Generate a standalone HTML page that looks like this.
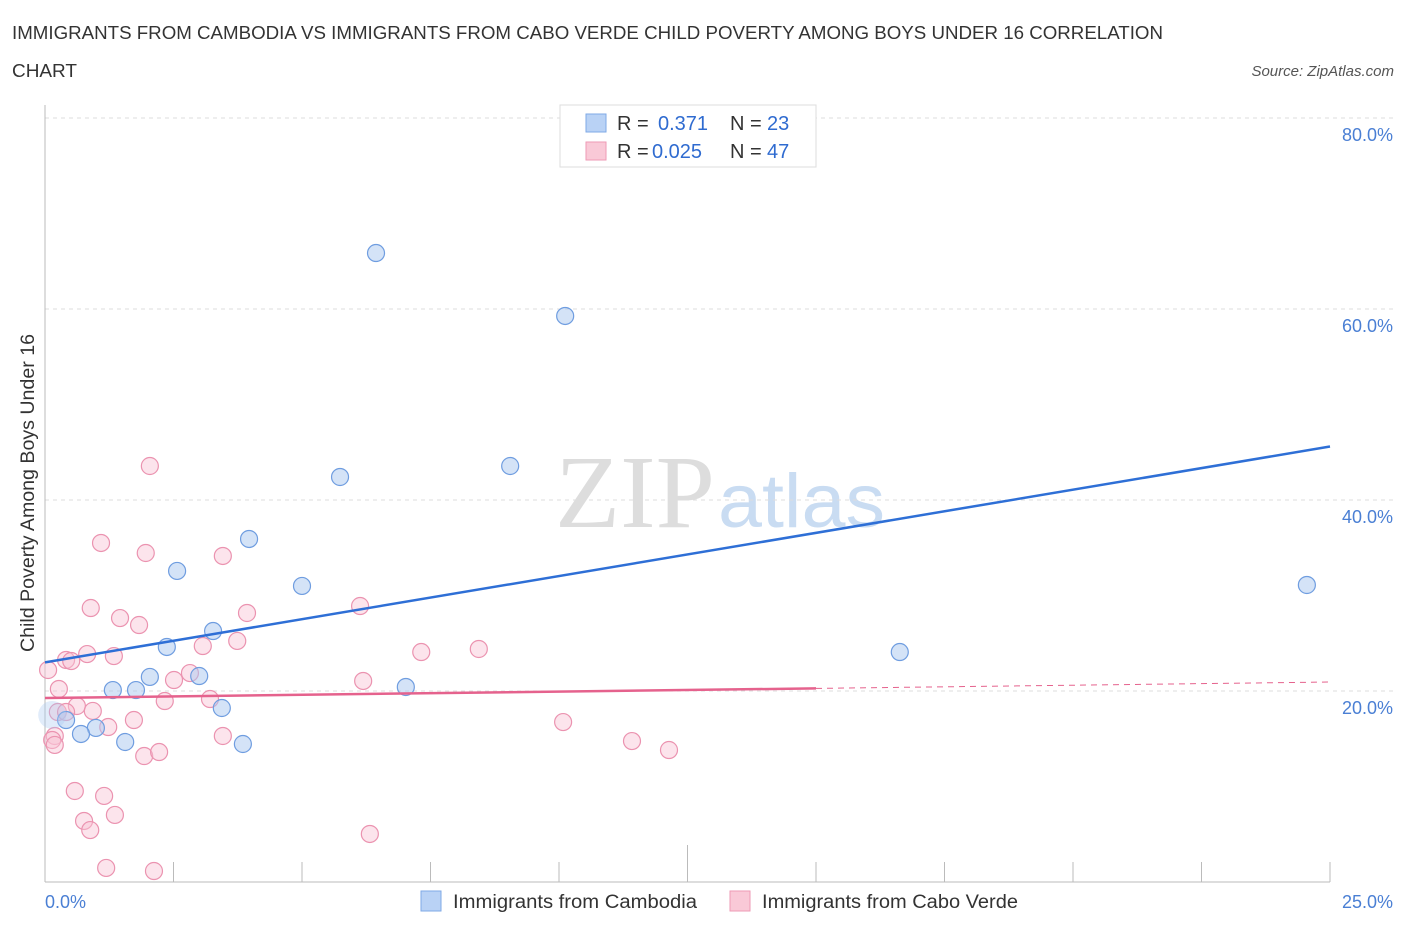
<!DOCTYPE html>
<html><head><meta charset="utf-8"><style>
body{margin:0;background:#fff;font-family:"Liberation Sans",sans-serif}
</style></head><body>
<svg width="1406" height="930" xmlns="http://www.w3.org/2000/svg" id="svg">
<text x="12" y="39" font-size="18" fill="#333" textLength="1151" lengthAdjust="spacingAndGlyphs">IMMIGRANTS FROM CAMBODIA VS IMMIGRANTS FROM CABO VERDE CHILD POVERTY AMONG BOYS UNDER 16 CORRELATION</text>
<text x="12" y="77" font-size="18" fill="#333" textLength="65" lengthAdjust="spacingAndGlyphs">CHART</text>
<text x="1394" y="76" font-size="15" fill="#555" font-style="italic" text-anchor="end">Source: ZipAtlas.com</text>
<g><text x="555" y="527" font-size="104" font-family="Liberation Serif,serif" fill="#ddd" textLength="160" lengthAdjust="spacingAndGlyphs">ZIP</text><text x="718" y="527" font-size="76" fill="#c9dcf2" textLength="167" lengthAdjust="spacingAndGlyphs">atlas</text></g>
<g id="grid"></g>
<line x1="45" y1="105" x2="45" y2="882" stroke="#bbb"/>
<line x1="45" y1="882" x2="1330" y2="882" stroke="#bbb"/>
<text x="34" y="493" font-size="19" fill="#333" text-anchor="middle" textLength="318" lengthAdjust="spacingAndGlyphs" transform="rotate(-90 34 493)">Child Poverty Among Boys Under 16</text>
<text x="45" y="908" font-size="18" fill="#4a7fd4">0.0%</text>
<text x="1393" y="908" font-size="18" fill="#4a7fd4" text-anchor="end">25.0%</text>
<g id="pts"></g>
<g id="lines"></g>
<g>
<rect x="560" y="105" width="256" height="62" fill="#fff" stroke="#ddd"/>
<rect x="586" y="114" width="20" height="18" fill="#b9d2f5" stroke="#7fa9e6"/>
<text x="617" y="130" font-size="20" fill="#333">R = </text><text x="658" y="130" font-size="20" fill="#2f6bd0">0.371</text>
<text x="730" y="130" font-size="20" fill="#333">N = </text><text x="767" y="130" font-size="20" fill="#2f6bd0">23</text>
<rect x="586" y="142" width="20" height="18" fill="#f9c9d7" stroke="#ee9ab5"/>
<text x="617" y="158" font-size="20" fill="#333">R = </text><text x="652" y="158" font-size="20" fill="#2f6bd0">0.025</text>
<text x="730" y="158" font-size="20" fill="#333">N = </text><text x="767" y="158" font-size="20" fill="#2f6bd0">47</text>
</g>
<g>
<rect x="421" y="891" width="20" height="20" fill="#b9d2f5" stroke="#7fa9e6"/>
<text x="453" y="908" font-size="19" fill="#333" textLength="244" lengthAdjust="spacingAndGlyphs">Immigrants from Cambodia</text>
<rect x="730" y="891" width="20" height="20" fill="#f9c9d7" stroke="#ee9ab5"/>
<text x="762" y="908" font-size="19" fill="#333" textLength="256" lengthAdjust="spacingAndGlyphs">Immigrants from Cabo Verde</text>
</g>
</svg>
<script>
const yTicks=[20,40,60,80];
const yTickLabels=["20.0%","40.0%","60.0%","80.0%"];
const blueX=[6.44,10.12,5.74,9.05,3.97,2.57,5.00,3.27,2.37,3.00,2.04,1.32,1.77,7.02,3.44,0.41,0.99,0.70,1.56,3.85,16.63,24.55,0.14];
const blueY=[65.86,59.27,42.41,43.56,35.92,32.57,31.00,26.28,24.61,21.57,21.47,20.10,20.10,20.42,18.22,16.96,16.13,15.50,14.66,14.45,24.08,31.10,17.49];
const pinkX=[2.04,1.09,1.96,3.46,0.89,1.46,3.93,1.83,6.13,3.74,3.07,0.82,1.34,0.41,0.51,0.06,7.32,8.44,2.82,2.51,6.19,0.27,3.21,2.33,0.62,0.93,0.25,1.73,1.23,10.08,3.46,0.19,0.14,0.19,11.42,12.14,1.93,2.22,0.58,1.15,0.76,1.36,0.88,6.32,1.19,2.12,0.41];
const pinkY=[43.56,35.50,34.45,34.14,28.69,27.64,28.17,26.91,28.90,25.24,24.71,23.87,23.66,23.25,23.14,22.20,24.08,24.40,21.88,21.15,21.05,20.21,19.16,18.95,18.43,17.91,17.80,16.96,16.23,16.75,15.29,15.29,14.87,14.35,14.76,13.82,13.19,13.61,9.53,9.01,6.39,7.02,5.44,5.03,1.47,1.15,17.80];
const blueTrend=[23.0,45.6];
const pinkTrend=[19.27,20.94];
const NS='http://www.w3.org/2000/svg';
const X=v=>45+v/25*1285, Y=v=>882-v/80*764;
function mk(t,a,p){const e=document.createElementNS(NS,t);for(const k in a)e.setAttribute(k,a[k]);p.appendChild(e);return e;}
const grid=document.getElementById('grid');
yTicks.forEach((t,i)=>{
 const l=mk('line',{x1:45,x2:1395,y1:Y(t),y2:Y(t),stroke:'#ddd','stroke-dasharray':'4 4'},grid);
 
 
 const tx=mk('text',{x:1393,y:Y(t)+23,'font-size':18,fill:'#4a7fd4','text-anchor':'end'},grid);
 tx.textContent=yTickLabels[i];
 
 
});
for(let i=1;i<=10;i++){
 const t=mk('line',{x1:X(i*2.5),x2:X(i*2.5),y1:i==5?845:862,y2:882,stroke:'#bbb'},grid);
 
 
}
const pts=document.getElementById('pts');
pinkX.forEach((x,i)=>{
 const c=mk('circle',{cx:X(x),cy:Y(pinkY[i]),r:8.5,fill:'rgba(249,195,212,0.45)',stroke:'#eb93b0','stroke-width':1.2},pts);
 
 
});
blueX.forEach((x,i)=>{
 const c=mk('circle',{cx:X(x),cy:Y(blueY[i]),r:i==22?14:8.5,fill:i==22?'rgba(170,200,240,0.35)':'rgba(170,200,240,0.5)',stroke:i==22?'none':'#6f9de0','stroke-width':1.2},pts);
 
 
});
const ln=document.getElementById('lines');
const b=mk('line',{x1:X(0),y1:Y(blueTrend[0]),x2:X(25),y2:Y(blueTrend[1]),stroke:'#2e6fd6','stroke-width':2.5},ln);


const pm=pinkTrend[0]+(pinkTrend[1]-pinkTrend[0])*15/25;
const p=mk('line',{x1:X(0),y1:Y(pinkTrend[0]),x2:X(15),y2:Y(pm),stroke:'#e5628d','stroke-width':2.5},ln);


const pd=mk('line',{x1:X(15),y1:Y(pm),x2:X(25),y2:Y(pinkTrend[1]),stroke:'#e5628d','stroke-width':1,'stroke-dasharray':'6 5'},ln);


</script>
</body></html>
